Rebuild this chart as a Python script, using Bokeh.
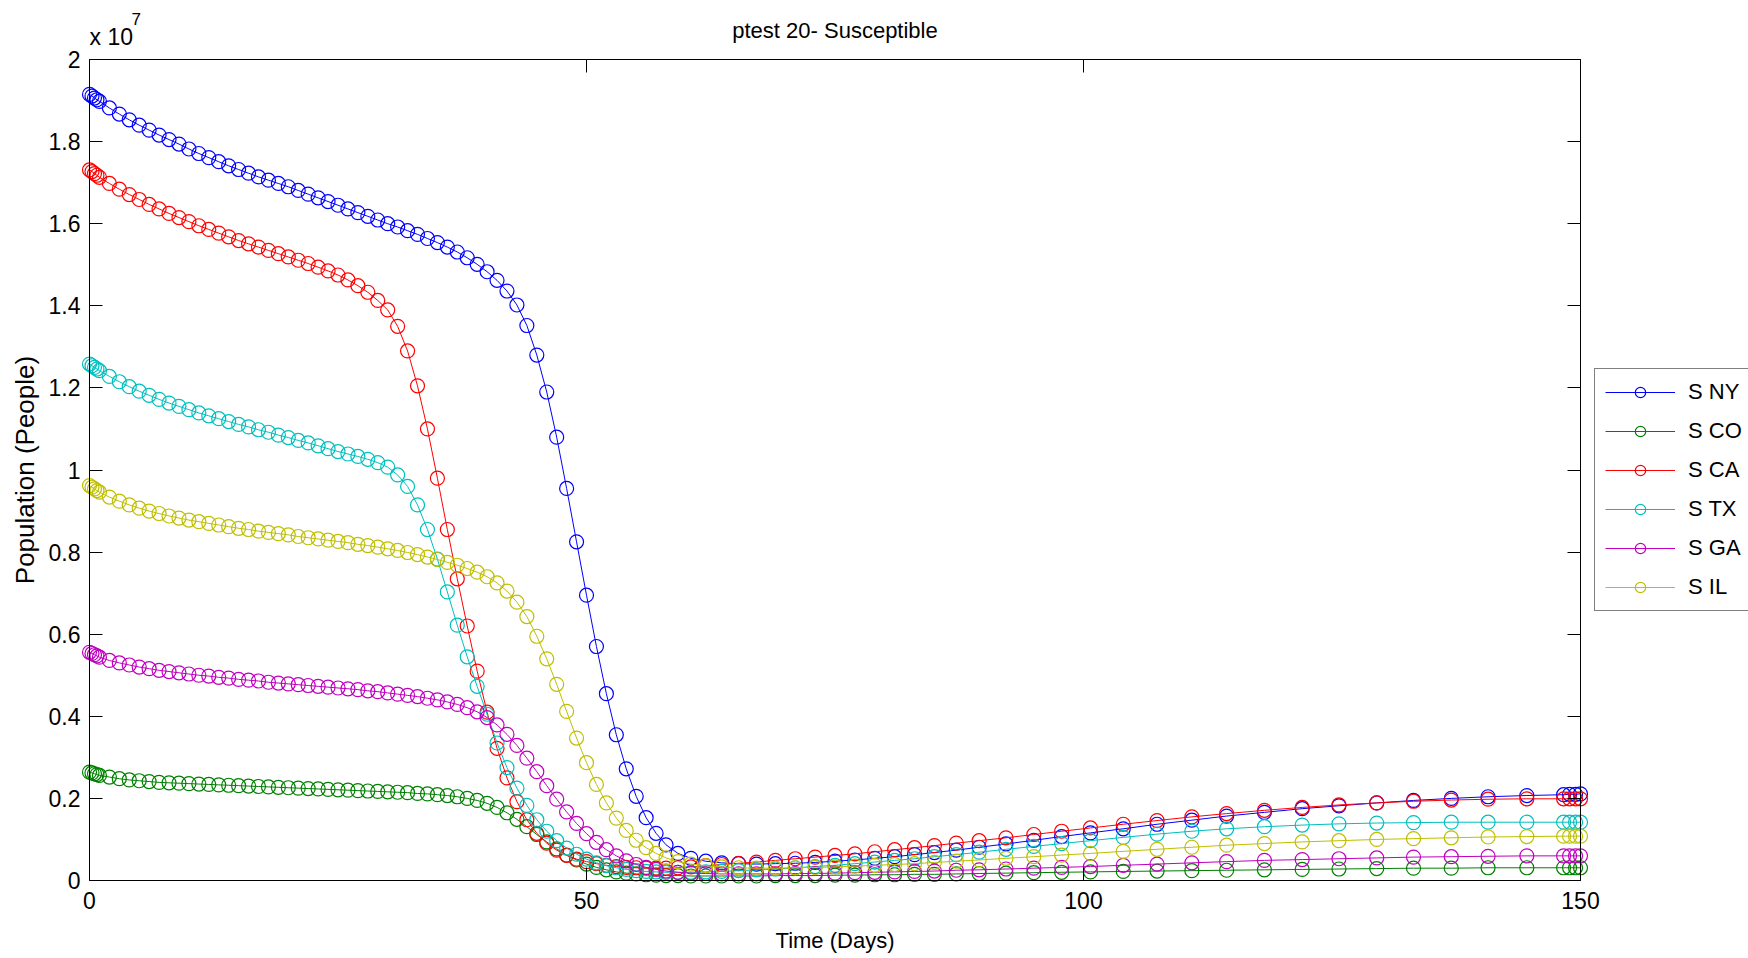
import math
from bokeh.plotting import figure
from bokeh.models import (Range1d, LinearAxis, FixedTicker, NumeralTickFormatter,
                          Legend, LegendItem, Label)
from bokeh.embed import file_html
from bokeh.resources import INLINE

# ---------------- data (population in units of 10^7) ----------------
t_days = [0, 0.25, 0.5, 0.75,
          1, 2, 3, 4, 5, 6, 7, 8, 9, 10,
          11, 12, 13, 14, 15, 16, 17, 18, 19, 20,
          21, 22, 23, 24, 25, 26, 27, 28, 29, 30,
          31, 32, 33, 34, 35, 36, 37, 38, 39, 40,
          41, 42, 43, 44, 45, 46, 47, 48, 49, 50,
          51, 52, 53, 54, 55, 56, 57, 58,
          59.2, 60.5, 62, 63.6, 65.3, 67.1, 69, 71, 73, 75,
          77, 79, 81, 83, 85, 87.2, 89.5, 92.2, 95, 97.8,
          100.7, 104, 107.4, 110.9, 114.4, 118.2, 122, 125.7, 129.5, 133.2,
          137, 140.7, 144.6, 148.3, 148.9, 149.5, 150]

s_ny = [1.915, 1.911, 1.906, 1.902,
        1.898, 1.882, 1.867, 1.853, 1.840, 1.828, 1.816, 1.805, 1.794, 1.782,
        1.771, 1.761, 1.751, 1.741, 1.732, 1.723, 1.714, 1.706, 1.698, 1.690,
        1.681, 1.672, 1.663, 1.654, 1.645, 1.636, 1.627, 1.618, 1.609, 1.600,
        1.592, 1.583, 1.574, 1.564, 1.554, 1.543, 1.531, 1.517, 1.501, 1.483,
        1.462, 1.436, 1.402, 1.352, 1.280, 1.190, 1.080, 0.955, 0.825, 0.695,
        0.570, 0.455, 0.355, 0.272, 0.205, 0.153, 0.115, 0.087,
        0.066, 0.054, 0.047, 0.043, 0.041, 0.040, 0.041, 0.042, 0.044, 0.047,
        0.050, 0.054, 0.058, 0.063, 0.068, 0.074, 0.081, 0.089, 0.098, 0.107,
        0.116, 0.126, 0.137, 0.147, 0.157, 0.166, 0.175, 0.182, 0.189, 0.195,
        0.200, 0.204, 0.207, 0.209, 0.210, 0.210, 0.211]

s_co = [0.264, 0.262, 0.260, 0.258,
        0.256, 0.252, 0.248, 0.245, 0.243, 0.241, 0.239, 0.238, 0.237, 0.236,
        0.235, 0.234, 0.233, 0.232, 0.231, 0.230, 0.229, 0.228, 0.227, 0.226,
        0.225, 0.224, 0.223, 0.222, 0.221, 0.220, 0.219, 0.218, 0.217, 0.216,
        0.215, 0.214, 0.212, 0.211, 0.209, 0.207, 0.204, 0.200, 0.195, 0.188,
        0.178, 0.165, 0.149, 0.131, 0.112, 0.094, 0.077, 0.062, 0.050, 0.040,
        0.032, 0.026, 0.021, 0.018, 0.016, 0.014, 0.013, 0.012,
        0.012, 0.011, 0.011, 0.011, 0.011, 0.011, 0.012, 0.012, 0.012, 0.013,
        0.013, 0.014, 0.014, 0.015, 0.015, 0.016, 0.017, 0.018, 0.019, 0.020,
        0.021, 0.022, 0.023, 0.024, 0.025, 0.026, 0.027, 0.028, 0.029, 0.030,
        0.030, 0.031, 0.031, 0.031, 0.031, 0.031, 0.031]

s_ca = [1.731, 1.727, 1.722, 1.718,
        1.713, 1.698, 1.684, 1.671, 1.659, 1.647, 1.636, 1.625, 1.615, 1.605,
        1.595, 1.586, 1.577, 1.568, 1.559, 1.551, 1.543, 1.535, 1.527, 1.519,
        1.511, 1.503, 1.494, 1.485, 1.475, 1.463, 1.449, 1.433, 1.413, 1.390,
        1.350, 1.290, 1.205, 1.100, 0.980, 0.855, 0.735, 0.620, 0.510, 0.410,
        0.322, 0.250, 0.192, 0.148, 0.115, 0.091, 0.074, 0.061, 0.052, 0.046,
        0.041, 0.037, 0.034, 0.032, 0.031, 0.030, 0.030, 0.030,
        0.031, 0.033, 0.036, 0.039, 0.042, 0.045, 0.049, 0.053, 0.057, 0.061,
        0.065, 0.070, 0.075, 0.080, 0.085, 0.091, 0.097, 0.104, 0.112, 0.120,
        0.128, 0.137, 0.146, 0.155, 0.163, 0.171, 0.178, 0.184, 0.189, 0.193,
        0.196, 0.198, 0.199, 0.199, 0.199, 0.199, 0.199]

s_tx = [1.258, 1.254, 1.250, 1.246,
        1.242, 1.228, 1.215, 1.203, 1.192, 1.182, 1.172, 1.163, 1.155, 1.147,
        1.139, 1.132, 1.125, 1.118, 1.111, 1.105, 1.098, 1.092, 1.085, 1.079,
        1.072, 1.066, 1.059, 1.052, 1.045, 1.039, 1.033, 1.026, 1.018, 1.007,
        0.988, 0.960, 0.915, 0.855, 0.783, 0.703, 0.622, 0.545, 0.473, 0.405,
        0.335, 0.275, 0.225, 0.183, 0.148, 0.120, 0.097, 0.079, 0.064, 0.052,
        0.043, 0.036, 0.031, 0.027, 0.024, 0.022, 0.021, 0.020,
        0.020, 0.020, 0.021, 0.022, 0.024, 0.026, 0.028, 0.031, 0.034, 0.037,
        0.041, 0.045, 0.049, 0.053, 0.058, 0.063, 0.069, 0.076, 0.083, 0.090,
        0.097, 0.105, 0.113, 0.120, 0.126, 0.131, 0.135, 0.138, 0.140, 0.141,
        0.142, 0.142, 0.142, 0.142, 0.142, 0.142, 0.142]

s_ga = [0.556, 0.553, 0.550, 0.547,
        0.544, 0.536, 0.530, 0.525, 0.520, 0.516, 0.512, 0.509, 0.506, 0.503,
        0.500, 0.498, 0.495, 0.493, 0.490, 0.488, 0.486, 0.483, 0.481, 0.479,
        0.477, 0.475, 0.473, 0.471, 0.469, 0.467, 0.465, 0.462, 0.460, 0.457,
        0.454, 0.451, 0.448, 0.444, 0.440, 0.435, 0.429, 0.421, 0.411, 0.397,
        0.379, 0.356, 0.329, 0.298, 0.265, 0.231, 0.198, 0.167, 0.139, 0.114,
        0.093, 0.075, 0.060, 0.048, 0.039, 0.032, 0.027, 0.023,
        0.020, 0.018, 0.017, 0.016, 0.016, 0.016, 0.016, 0.017, 0.017, 0.018,
        0.019, 0.020, 0.021, 0.022, 0.023, 0.025, 0.026, 0.028, 0.030, 0.032,
        0.034, 0.037, 0.040, 0.043, 0.046, 0.049, 0.051, 0.053, 0.055, 0.057,
        0.058, 0.059, 0.060, 0.060, 0.060, 0.060, 0.060]

s_il = [0.962, 0.958, 0.954, 0.950,
        0.946, 0.934, 0.924, 0.915, 0.907, 0.900, 0.894, 0.888, 0.883, 0.878,
        0.874, 0.870, 0.866, 0.862, 0.858, 0.855, 0.851, 0.848, 0.845, 0.842,
        0.838, 0.835, 0.832, 0.829, 0.826, 0.823, 0.819, 0.816, 0.812, 0.808,
        0.804, 0.799, 0.794, 0.788, 0.782, 0.775, 0.768, 0.760, 0.751, 0.740,
        0.725, 0.705, 0.678, 0.643, 0.595, 0.540, 0.478, 0.412, 0.347, 0.287,
        0.234, 0.189, 0.152, 0.122, 0.098, 0.080, 0.066, 0.055,
        0.046, 0.040, 0.036, 0.033, 0.031, 0.030, 0.030, 0.031, 0.032, 0.033,
        0.035, 0.037, 0.039, 0.041, 0.044, 0.047, 0.050, 0.054, 0.058, 0.062,
        0.066, 0.071, 0.076, 0.081, 0.086, 0.090, 0.094, 0.097, 0.100, 0.102,
        0.104, 0.106, 0.107, 0.108, 0.108, 0.108, 0.108]

series_names = ["S NY", "S CO", "S CA", "S TX", "S GA", "S IL"]
series_values = [s_ny, s_co, s_ca, s_tx, s_ga, s_il]
series_colors = ["#0000ff", "#008000", "#ff0000", "#00bfbf", "#bf00bf", "#bfbf00"]

x_ticks = [0, 50, 100, 150]
y_ticks = [0, 0.2, 0.4, 0.6, 0.8, 1.0, 1.2, 1.4, 1.6, 1.8, 2.0]

title_text = "ptest 20- Susceptible"
x_label = "Time (Days)"
y_label = "Population (People)"
exp_base = "x 10"
exp_power = "7"

FONT = "Liberation Sans"
FS = "22px"
TICK_FS = "23px"

X_MIN, X_MAX = 0, 150
Y_MIN, Y_MAX = 0, 2.0

# ---------------- layout: the frame covers the whole canvas ----------------
W, H = 1748, 958
BOX_L, BOX_R, BOX_T, BOX_B = 89, 1580, 59, 880      # axes box in canvas pixels
ppx = (BOX_R - BOX_L) / (X_MAX - X_MIN)
ppy = (BOX_B - BOX_T) / (Y_MAX - Y_MIN)
x_rng = Range1d(X_MIN - BOX_L / ppx, X_MAX + (W - BOX_R) / ppx)
y_rng = Range1d(Y_MIN - (H - BOX_B) / ppy, Y_MAX + BOX_T / ppy)

p = figure(width=W, height=H, output_backend="svg", toolbar_location=None,
           title=None, x_axis_type=None, y_axis_type=None,
           x_range=x_rng, y_range=y_rng, min_border=0)
p.xgrid.visible = False
p.ygrid.visible = False
p.outline_line_color = None
p.background_fill_color = "white"
p.border_fill_color = "white"

bottom_axis = LinearAxis(ticker=FixedTicker(ticks=x_ticks), fixed_location=Y_MIN,
                         bounds=(X_MIN, X_MAX))
left_axis = LinearAxis(ticker=FixedTicker(ticks=y_ticks), fixed_location=X_MIN,
                       bounds=(Y_MIN, Y_MAX),
                       formatter=NumeralTickFormatter(format="0.[0]"))
top_axis = LinearAxis(ticker=FixedTicker(ticks=x_ticks), fixed_location=Y_MAX,
                      bounds=(X_MIN, X_MAX))
right_axis = LinearAxis(ticker=FixedTicker(ticks=y_ticks), fixed_location=X_MAX,
                        bounds=(Y_MIN, Y_MAX))
p.add_layout(bottom_axis, "below")
p.add_layout(left_axis, "left")
p.add_layout(top_axis, "above")
p.add_layout(right_axis, "right")

for ax in [bottom_axis, left_axis, top_axis, right_axis]:
    ax.major_tick_in = 13
    ax.major_tick_out = 0
    ax.minor_tick_in = 0
    ax.minor_tick_out = 0
    ax.axis_line_color = "black"
    ax.axis_line_width = 1
    ax.major_tick_line_color = "black"
    ax.major_label_text_font = FONT

for ax in [top_axis, right_axis]:
    ax.major_label_text_font_size = "1px"
    ax.major_label_text_color = None
    ax.major_label_standoff = 0

for ax in [bottom_axis, left_axis]:
    ax.major_label_text_font_size = TICK_FS
    ax.major_label_text_color = "black"
bottom_axis.major_label_standoff = 11
left_axis.major_label_standoff = 9

# ---------------- series ----------------
items = []
for name, vals, color in zip(series_names, series_values, series_colors):
    rl = p.line(t_days, vals, line_color=color, line_width=1)
    rm = p.scatter(t_days, vals, marker="circle", size=14, fill_color=None,
                   line_color=color, line_width=1.2)
    items.append(LegendItem(label=name, renderers=[rl, rm]))

legend = Legend(items=items, location=(1594, H - 611), glyph_width=70, glyph_height=26,
                label_height=20, spacing=13, padding=10, margin=0,
                label_standoff=13, label_text_font=FONT, label_text_font_size=FS,
                label_text_color="black", border_line_color="black",
                border_line_width=1, background_fill_color="white",
                background_fill_alpha=1.0)
p.add_layout(legend, "center")

# ---------------- texts ----------------
p.add_layout(Label(x=(X_MIN + X_MAX) / 2, y=Y_MAX, text=title_text, y_offset=29,
                   text_font=FONT, text_font_size=FS, text_align="center",
                   text_baseline="alphabetic", text_color="black"))
p.add_layout(Label(x=X_MIN, y=Y_MAX, text=exp_base, x_offset=0, y_offset=23,
                   text_font=FONT, text_font_size="23px", text_align="left",
                   text_baseline="alphabetic", text_color="black"))
p.add_layout(Label(x=X_MIN, y=Y_MAX, text=exp_power, x_offset=42, y_offset=41,
                   text_font=FONT, text_font_size="17px", text_align="left",
                   text_baseline="alphabetic", text_color="black"))
p.add_layout(Label(x=(X_MIN + X_MAX) / 2, y=Y_MIN, text=x_label, y_offset=-60,
                   text_font=FONT, text_font_size=FS, text_align="center",
                   text_baseline="middle", text_color="black"))
p.add_layout(Label(x=X_MIN, y=(Y_MIN + Y_MAX) / 2, text=y_label, x_offset=-65,
                   angle=math.pi / 2, text_font=FONT, text_font_size="26px",
                   text_align="center", text_baseline="middle", text_color="black"))

open("out.html", "w").write(file_html(p, INLINE))
